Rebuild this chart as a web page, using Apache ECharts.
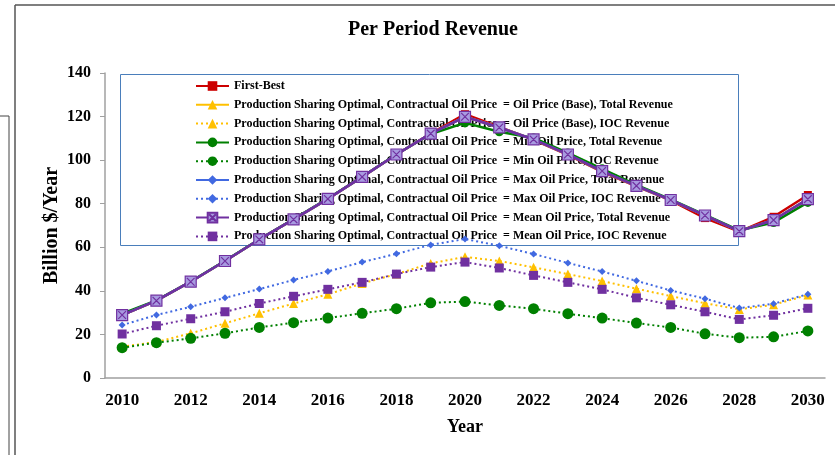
<!DOCTYPE html>
<html>
<head>
<meta charset="utf-8">
<script src="https://cdn.jsdelivr.net/npm/echarts@6/dist/echarts.min.js"></script>
<style>
  html, body { margin: 0; padding: 0; background: #fff; }
  #chart { width: 835px; height: 455px; }
</style>
</head>
<body>
<div id="chart"></div>
<script>
  // years on the x axis
  var years = ['2010', '2011', '2012', '2013', '2014', '2015', '2016', '2017', '2018', '2019', '2020',
    '2021', '2022', '2023', '2024', '2025', '2026', '2027', '2028', '2029', '2030'];

  var yTicks = [0, 20, 40, 60, 80, 100, 120, 140];

  // total revenue series (Billion $/Year)
  var firstBest = [28.9, 35.5, 44.2, 53.7, 63.6, 72.8, 82.2, 92.3, 102.6, 112.2, 121.1,
    115.3, 109.3, 102.4, 94.6, 88.0, 81.5, 73.4, 67.2, 74.0, 84.0];
  var baseTotal = [28.9, 35.5, 44.2, 53.7, 63.6, 72.8, 82.2, 92.3, 102.6, 112.2, 119.9,
    115.0, 109.5, 102.6, 95.0, 88.2, 81.7, 74.6, 67.4, 72.5, 82.1];
  var minTotal = [29.5, 35.6, 44.3, 53.8, 63.7, 72.9, 82.4, 92.4, 102.7, 112.0, 117.1,
    113.0, 110.2, 103.3, 96.0, 88.6, 82.0, 74.9, 67.8, 71.4, 80.6];
  var maxTotal = [28.9, 35.5, 44.2, 53.7, 63.6, 72.8, 82.2, 92.3, 102.6, 112.2, 119.9,
    115.0, 109.5, 102.6, 95.0, 88.2, 81.7, 74.6, 67.4, 72.5, 82.1];
  var meanTotal = [28.9, 35.5, 44.2, 53.7, 63.6, 72.8, 82.2, 92.3, 102.6, 112.2, 119.9,
    115.0, 109.5, 102.6, 95.0, 88.2, 81.7, 74.6, 67.4, 72.5, 82.1];

  // IOC revenue series
  var baseIOC = [14.4, 16.5, 20.5, 25.1, 29.7, 34.2, 38.4, 43.4, 47.7, 52.6, 55.6,
    53.7, 50.8, 47.7, 44.5, 41.0, 37.6, 34.3, 31.5, 33.6, 38.1];
  var minIOC = [13.9, 16.2, 18.2, 20.5, 23.2, 25.4, 27.5, 29.7, 31.8, 34.5, 35.1,
    33.3, 31.8, 29.5, 27.5, 25.2, 23.2, 20.3, 18.5, 18.9, 21.6];
  var maxIOC = [24.3, 28.9, 32.7, 36.8, 40.8, 45.0, 48.9, 53.2, 57.0, 61.1, 63.8,
    60.7, 56.9, 52.8, 48.9, 44.6, 40.2, 36.4, 32.1, 34.1, 38.5];
  var meanIOC = [20.2, 24.0, 27.2, 30.4, 34.2, 37.5, 40.7, 43.9, 47.7, 50.9, 53.2,
    50.5, 47.1, 43.9, 40.7, 36.8, 33.6, 30.4, 26.9, 28.8, 32.0];

  var pre = 'Production Sharing Optimal, Contractual Oil Price  = ';
  var names = [
    'First-Best',
    pre + 'Oil Price (Base), Total Revenue',
    pre + 'Oil Price (Base), IOC Revenue',
    pre + 'Min Oil Price, Total Revenue',
    pre + 'Min Oil Price, IOC Revenue',
    pre + 'Max Oil Price, Total Revenue',
    pre + 'Max Oil Price, IOC Revenue',
    pre + 'Mean Oil Price, Total Revenue',
    pre + 'Mean Oil Price, IOC Revenue'
  ];

  var font = '"Liberation Serif", "Times New Roman", serif';
  var dots = [2, 3];
  var crossBox = 'path://M0,0 L10,0 L10,10 L0,10 Z M1.5,1.5 L8.5,8.5 M8.5,1.5 L1.5,8.5';

  function line(name, data, color, symbol, size, dotted, extra) {
    var s = {
      name: name,
      type: 'line',
      data: data,
      symbol: symbol,
      symbolSize: size,
      showAllSymbol: true,
      animation: false,
      lineStyle: { color: color, width: dotted ? 2 : 2.5, type: dotted ? dots : 'solid' },
      itemStyle: { color: color }
    };
    if (extra) s.itemStyle = extra;
    return s;
  }

  var chart = echarts.init(document.getElementById('chart'));
  chart.setOption({
    backgroundColor: '#fff',
    title: {
      text: 'Per Period Revenue',
      left: 428,
      textAlign: 'center',
      top: 15,
      textStyle: { fontFamily: font, fontSize: 20, fontWeight: 'bold', color: '#000' }
    },
    graphic: [
      { type: 'line', shape: { x1: 15, y1: 5, x2: 835, y2: 5 }, style: { stroke: '#555', lineWidth: 1.5 } },
      { type: 'line', shape: { x1: 15, y1: 5, x2: 15, y2: 455 }, style: { stroke: '#555', lineWidth: 1.5 } },
      { type: 'line', shape: { x1: 0, y1: 116, x2: 9, y2: 116 }, style: { stroke: '#444', lineWidth: 1 } },
      { type: 'line', shape: { x1: 9, y1: 116, x2: 9, y2: 455 }, style: { stroke: '#444', lineWidth: 1 } },
      { type: 'rect', z: 0, shape: { x: 120.5, y: 74.5, width: 618, height: 171 },
        style: { fill: 'none', stroke: '#4a7ebb', lineWidth: 1 } }
    ],
    legend: {
      data: names,
      orient: 'vertical',
      left: 195,
      top: 80,
      z: 1,
      itemWidth: 33,
      itemHeight: 12,
      itemGap: 6.8,
      padding: 0,
      selectedMode: false,
      textStyle: { fontFamily: font, fontSize: 12, fontWeight: 'bold', color: '#000', lineHeight: 12 }
    },
    grid: { left: 105, right: 10, top: 73, bottom: 77 },
    xAxis: {
      type: 'category',
      data: years,
      boundaryGap: true,
      name: 'Year',
      nameLocation: 'middle',
      nameGap: 40,
      nameTextStyle: { fontFamily: font, fontSize: 18, fontWeight: 'bold', color: '#000' },
      axisLine: { lineStyle: { color: '#a0a0a0', width: 1.5 } },
      axisTick: { interval: 0, length: 5, lineStyle: { color: '#a0a0a0' } },
      axisLabel: { interval: 1, margin: 14, fontFamily: font, fontSize: 17, fontWeight: 'bold', color: '#000' }
    },
    yAxis: {
      type: 'value',
      min: yTicks[0],
      max: yTicks[yTicks.length - 1],
      interval: 20,
      name: 'Billion $/Year',
      nameLocation: 'middle',
      nameGap: 43,
      nameMoveOverlap: false,
      nameTextStyle: { fontFamily: font, fontSize: 20, fontWeight: 'bold', color: '#000' },
      axisLine: { show: true, lineStyle: { color: '#a0a0a0', width: 1.5 } },
      axisTick: { show: true, length: 5, lineStyle: { color: '#a0a0a0' } },
      splitLine: { show: false },
      axisLabel: { margin: 14, fontFamily: font, fontSize: 16, fontWeight: 'bold', color: '#000' }
    },
    series: [
      line(names[0], firstBest, '#cc0000', 'rect', 8, false),
      line(names[1], baseTotal, '#ffc000', 'triangle', 8, false),
      line(names[2], baseIOC, '#ffc000', 'triangle', 9, true),
      line(names[3], minTotal, '#008000', 'circle', 9, false),
      line(names[4], minIOC, '#008000', 'circle', 11, true),
      line(names[5], maxTotal, '#4169e1', 'diamond', 7, false),
      line(names[6], maxIOC, '#4169e1', 'diamond', 7, true),
      line(names[7], meanTotal, '#7030a0', crossBox, 11, false,
        { color: '#a89be0', borderColor: '#7030a0', borderWidth: 1.2 }),
      line(names[8], meanIOC, '#7030a0', 'rect', 9, true)
    ]
  });
</script>
</body>
</html>
